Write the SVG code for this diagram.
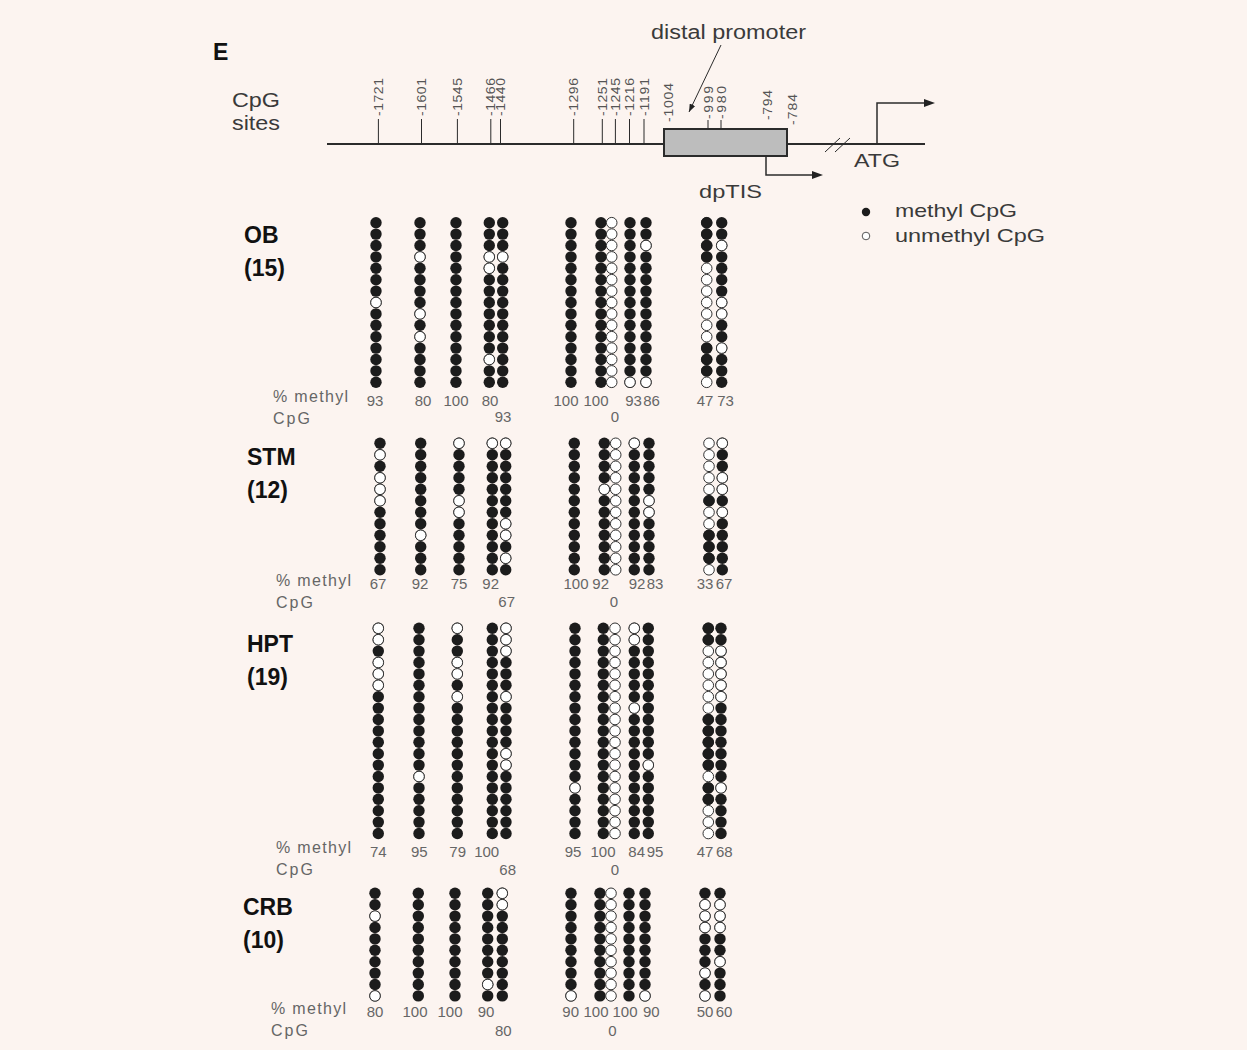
<svg xmlns="http://www.w3.org/2000/svg" xmlns:xlink="http://www.w3.org/1999/xlink" width="1247" height="1050" viewBox="0 0 1247 1050">
<style>
.t{font-family:"Liberation Sans",Arial,sans-serif;fill:#3a3a3a}
.n{font-family:"Liberation Sans",Arial,sans-serif;font-size:15px;fill:#666;text-anchor:middle}
.p{font-family:"Liberation Sans",Arial,sans-serif;font-size:16px;fill:#666}
.b{font-family:"Liberation Sans",Arial,sans-serif;font-size:23px;font-weight:bold;fill:#111}
.k{font-family:"Liberation Sans",Arial,sans-serif;font-size:14px;fill:#555}
.ln{stroke:#2b2b2b;fill:none}
</style>
<defs>
<circle id="a" r="5.7" fill="#1c1c1c"/>
<circle id="b" r="5.3" fill="#fff" stroke="#333" stroke-width="1"/>
<marker id="ah" markerUnits="userSpaceOnUse" markerWidth="11" markerHeight="8" refX="0" refY="4" orient="auto"><path d="M0,0 L11,4 L0,8 z" fill="#222"/></marker>
<marker id="ap" markerUnits="userSpaceOnUse" markerWidth="8" markerHeight="6" refX="8" refY="3" orient="auto"><path d="M0,0 L8,3 L0,6 z" fill="#222"/></marker>
<g id="A15"><use href="#a"/><use href="#a" y="11.4"/><use href="#a" y="22.8"/><use href="#a" y="34.2"/><use href="#a" y="45.6"/><use href="#a" y="57"/><use href="#a" y="68.4"/><use href="#a" y="79.8"/><use href="#a" y="91.2"/><use href="#a" y="102.6"/><use href="#a" y="114"/><use href="#a" y="125.4"/><use href="#a" y="136.8"/><use href="#a" y="148.2"/><use href="#a" y="159.6"/></g>
<g id="B15"><use href="#b"/><use href="#b" y="11.4"/><use href="#b" y="22.8"/><use href="#b" y="34.2"/><use href="#b" y="45.6"/><use href="#b" y="57"/><use href="#b" y="68.4"/><use href="#b" y="79.8"/><use href="#b" y="91.2"/><use href="#b" y="102.6"/><use href="#b" y="114"/><use href="#b" y="125.4"/><use href="#b" y="136.8"/><use href="#b" y="148.2"/><use href="#b" y="159.6"/></g>
<g id="A12"><use href="#a"/><use href="#a" y="11.5"/><use href="#a" y="23"/><use href="#a" y="34.5"/><use href="#a" y="46"/><use href="#a" y="57.5"/><use href="#a" y="69"/><use href="#a" y="80.5"/><use href="#a" y="92"/><use href="#a" y="103.5"/><use href="#a" y="115"/><use href="#a" y="126.5"/></g>
<g id="B12"><use href="#b"/><use href="#b" y="11.5"/><use href="#b" y="23"/><use href="#b" y="34.5"/><use href="#b" y="46"/><use href="#b" y="57.5"/><use href="#b" y="69"/><use href="#b" y="80.5"/><use href="#b" y="92"/><use href="#b" y="103.5"/><use href="#b" y="115"/><use href="#b" y="126.5"/></g>
<g id="A19"><use href="#A15"/><use href="#a" y="171"/><use href="#a" y="182.4"/><use href="#a" y="193.8"/><use href="#a" y="205.2"/></g>
<g id="B19"><use href="#B15"/><use href="#b" y="171"/><use href="#b" y="182.4"/><use href="#b" y="193.8"/><use href="#b" y="205.2"/></g>
<g id="A10"><use href="#a"/><use href="#a" y="11.4"/><use href="#a" y="22.8"/><use href="#a" y="34.2"/><use href="#a" y="45.6"/><use href="#a" y="57"/><use href="#a" y="68.4"/><use href="#a" y="79.8"/><use href="#a" y="91.2"/><use href="#a" y="102.6"/></g>
<g id="B10"><use href="#b"/><use href="#b" y="11.4"/><use href="#b" y="22.8"/><use href="#b" y="34.2"/><use href="#b" y="45.6"/><use href="#b" y="57"/><use href="#b" y="68.4"/><use href="#b" y="79.8"/><use href="#b" y="91.2"/><use href="#b" y="102.6"/></g>
</defs>
<rect width="1247" height="1050" fill="#fcf4f0"/>

<g id="header">
<text class="b" x="213" y="60" font-size="24">E</text>
<text class="t" x="232" y="107" font-size="20" textLength="48" lengthAdjust="spacingAndGlyphs">CpG</text>
<text class="t" x="232" y="130" font-size="20" textLength="48" lengthAdjust="spacingAndGlyphs">sites</text>
<text class="t" x="651" y="39" font-size="20" textLength="155" lengthAdjust="spacingAndGlyphs">distal promoter</text>
<text class="t" x="854" y="167" font-size="19" textLength="46" lengthAdjust="spacingAndGlyphs">ATG</text>
<text class="t" x="699" y="198" font-size="19" textLength="63" lengthAdjust="spacingAndGlyphs">dpTIS</text>
<path class="ln" stroke-width="2" d="M327,144 H664 M787,144 H925"/>
<rect x="664" y="129" width="123" height="27" fill="#bdbdbd" stroke="#2b2b2b" stroke-width="2"/>
<path class="ln" stroke-width="1" d="M825,152 L840,138 M835,152 L850,138"/>
<path class="ln" stroke-width="1" d="M378.4,119V144 M421.5,119V144 M457.4,119V144 M490.8,119V144 M500.5,119V144 M573.7,119V144 M602.3,119V144 M615.4,119V144 M629.5,119V144 M644,119V144 M708,120V129 M721,120V129"/>
<g class="k">
<text transform="translate(383,116) scale(0.85,1) rotate(-90)" textLength="38">-1721</text>
<text transform="translate(426,116) scale(0.85,1) rotate(-90)" textLength="38">-1601</text>
<text transform="translate(462,116) scale(0.85,1) rotate(-90)" textLength="38">-1545</text>
<text transform="translate(495,116) scale(0.85,1) rotate(-90)" textLength="38">-1466</text>
<text transform="translate(505,116) scale(0.85,1) rotate(-90)" textLength="38">-1440</text>
<text transform="translate(578,116) scale(0.85,1) rotate(-90)" textLength="38">-1296</text>
<text transform="translate(607,116) scale(0.85,1) rotate(-90)" textLength="38">-1251</text>
<text transform="translate(620,116) scale(0.85,1) rotate(-90)" textLength="38">-1245</text>
<text transform="translate(634,116) scale(0.85,1) rotate(-90)" textLength="38">-1216</text>
<text transform="translate(648.5,116) scale(0.85,1) rotate(-90)" textLength="38">-1191</text>
<text transform="translate(672.5,122) scale(0.85,1) rotate(-90)" textLength="39">-1004</text>
<text transform="translate(712.5,119) scale(0.85,1) rotate(-90)" textLength="33">-999</text>
<text transform="translate(725.5,119) scale(0.85,1) rotate(-90)" textLength="33">-980</text>
<text transform="translate(771.5,120) scale(0.85,1) rotate(-90)" textLength="30">-794</text>
<text transform="translate(796.5,125) scale(0.85,1) rotate(-90)" textLength="31">-784</text>
</g>
</g>

<g id="connectors">
<path class="ln" stroke-width="1.5" d="M877,144 V103 H924" marker-end="url(#ah)"/>
<path class="ln" stroke-width="1.5" d="M766,156 V175 H812" marker-end="url(#ah)"/>
<path class="ln" stroke-width="1" d="M721,45 L689,112" marker-end="url(#ap)"/>
</g>

<g id="legend">
<circle cx="866" cy="212" r="4.2" fill="#1c1c1c"/>
<circle cx="866" cy="236" r="3.8" fill="#fff" stroke="#444" stroke-width="0.9"/>
<text class="t" x="895" y="217" font-size="19" textLength="122" lengthAdjust="spacingAndGlyphs">methyl CpG</text>
<text class="t" x="895" y="242" font-size="19" textLength="150" lengthAdjust="spacingAndGlyphs">unmethyl CpG</text>
</g>

<g id="OB">
<text class="b" x="244" y="243">OB</text>
<text class="b" x="244" y="276">(15)</text>
<text class="p" x="273" y="402" textLength="75">% methyl</text>
<text class="p" x="273" y="424" textLength="37">CpG</text>
<g transform="translate(376,222.7)"><use href="#A15"/><use href="#b" y="79.8"/></g>
<g transform="translate(420,222.7)"><use href="#A15"/><use href="#b" y="34.2"/><use href="#b" y="91.2"/><use href="#b" y="114"/></g>
<g transform="translate(456,222.7)"><use href="#A15"/></g>
<g transform="translate(489.3,222.7)"><use href="#A15"/><use href="#b" y="34.2"/><use href="#b" y="45.6"/><use href="#b" y="136.8"/></g>
<g transform="translate(502.7,222.7)"><use href="#A15"/><use href="#b" y="34.2"/></g>
<g transform="translate(571,222.7)"><use href="#A15"/></g>
<g transform="translate(601,222.7)"><use href="#A15"/></g>
<g transform="translate(611.7,222.7)"><use href="#B15"/></g>
<g transform="translate(630,222.7)"><use href="#A15"/><use href="#b" y="159.6"/></g>
<g transform="translate(646,222.7)"><use href="#A15"/><use href="#b" y="22.8"/><use href="#b" y="159.6"/></g>
<g transform="translate(706.7,222.7)"><use href="#B15"/><use href="#a"/><use href="#a" y="11.4"/><use href="#a" y="22.8"/><use href="#a" y="34.2"/><use href="#a" y="125.4"/><use href="#a" y="136.8"/><use href="#a" y="148.2"/></g>
<g transform="translate(721.7,222.7)"><use href="#A15"/><use href="#b" y="22.8"/><use href="#b" y="79.8"/><use href="#b" y="91.2"/><use href="#b" y="125.4"/></g>
<text class="n" x="375" y="405.5">93</text>
<text class="n" x="423" y="405.5">80</text>
<text class="n" x="456" y="405.5">100</text>
<text class="n" x="490" y="405.5">80</text>
<text class="n" x="503" y="422">93</text>
<text class="n" x="566" y="405.5">100</text>
<text class="n" x="596" y="405.5">100</text>
<text class="n" x="615" y="422">0</text>
<text class="n" x="633.5" y="405.5">93</text>
<text class="n" x="651.5" y="405.5">86</text>
<text class="n" x="705" y="405.5">47</text>
<text class="n" x="725.5" y="405.5">73</text>
</g>

<g id="STM">
<text class="b" x="247" y="465">STM</text>
<text class="b" x="247" y="498">(12)</text>
<text class="p" x="276" y="586" textLength="75">% methyl</text>
<text class="p" x="276" y="608" textLength="37">CpG</text>
<g transform="translate(380,443.3)"><use href="#A12"/><use href="#b" y="11.5"/><use href="#b" y="34.5"/><use href="#b" y="46"/><use href="#b" y="57.5"/></g>
<g transform="translate(420.7,443.3)"><use href="#A12"/><use href="#b" y="92"/></g>
<g transform="translate(459,443.3)"><use href="#A12"/><use href="#b"/><use href="#b" y="57.5"/><use href="#b" y="69"/></g>
<g transform="translate(492.3,443.3)"><use href="#A12"/><use href="#b"/></g>
<g transform="translate(505.7,443.3)"><use href="#A12"/><use href="#b"/><use href="#b" y="80.5"/><use href="#b" y="92"/><use href="#b" y="115"/></g>
<g transform="translate(574.3,443.3)"><use href="#A12"/></g>
<g transform="translate(604.3,443.3)"><use href="#A12"/><use href="#b" y="46"/></g>
<g transform="translate(615.7,443.3)"><use href="#B12"/></g>
<g transform="translate(634.3,443.3)"><use href="#A12"/><use href="#b"/></g>
<g transform="translate(649,443.3)"><use href="#A12"/><use href="#b" y="57.5"/><use href="#b" y="69"/></g>
<g transform="translate(709,443.3)"><use href="#B12"/><use href="#a" y="57.5"/><use href="#a" y="92"/><use href="#a" y="103.5"/><use href="#a" y="115"/></g>
<g transform="translate(722.3,443.3)"><use href="#A12"/><use href="#b"/><use href="#b" y="34.5"/><use href="#b" y="46"/><use href="#b" y="69"/></g>
<text class="n" x="378" y="589">67</text>
<text class="n" x="420" y="589">92</text>
<text class="n" x="459" y="589">75</text>
<text class="n" x="490.7" y="589">92</text>
<text class="n" x="506.7" y="607">67</text>
<text class="n" x="576" y="589">100</text>
<text class="n" x="600.7" y="589">92</text>
<text class="n" x="614" y="607">0</text>
<text class="n" x="637" y="589">92</text>
<text class="n" x="655" y="589">83</text>
<text class="n" x="705" y="589">33</text>
<text class="n" x="724" y="589">67</text>
</g>

<g id="HPT">
<text class="b" x="247" y="652">HPT</text>
<text class="b" x="247" y="685">(19)</text>
<text class="p" x="276" y="853" textLength="75">% methyl</text>
<text class="p" x="276" y="875" textLength="37">CpG</text>
<g transform="translate(378.3,628.3)"><use href="#A19"/><use href="#b"/><use href="#b" y="11.4"/><use href="#b" y="34.2"/><use href="#b" y="45.6"/><use href="#b" y="57"/></g>
<g transform="translate(419,628.3)"><use href="#A19"/><use href="#b" y="148.2"/></g>
<g transform="translate(457.3,628.3)"><use href="#A19"/><use href="#b"/><use href="#b" y="34.2"/><use href="#b" y="45.6"/><use href="#b" y="68.4"/></g>
<g transform="translate(492.3,628.3)"><use href="#A19"/></g>
<g transform="translate(506,628.3)"><use href="#A19"/><use href="#b"/><use href="#b" y="11.4"/><use href="#b" y="22.8"/><use href="#b" y="68.4"/><use href="#b" y="125.4"/><use href="#b" y="136.8"/></g>
<g transform="translate(575,628.3)"><use href="#A19"/><use href="#b" y="159.6"/></g>
<g transform="translate(603.3,628.3)"><use href="#A19"/></g>
<g transform="translate(615,628.3)"><use href="#B19"/></g>
<g transform="translate(634.3,628.3)"><use href="#A19"/><use href="#b"/><use href="#b" y="11.4"/><use href="#b" y="79.8"/></g>
<g transform="translate(648.3,628.3)"><use href="#A19"/><use href="#b" y="136.8"/></g>
<g transform="translate(708.3,628.3)"><use href="#B19"/><use href="#a"/><use href="#a" y="11.4"/><use href="#a" y="91.2"/><use href="#a" y="102.6"/><use href="#a" y="114"/><use href="#a" y="125.4"/><use href="#a" y="136.8"/><use href="#a" y="159.6"/><use href="#a" y="171"/></g>
<g transform="translate(721,628.3)"><use href="#A19"/><use href="#b" y="22.8"/><use href="#b" y="34.2"/><use href="#b" y="45.6"/><use href="#b" y="57"/><use href="#b" y="68.4"/><use href="#b" y="159.6"/></g>
<text class="n" x="378.3" y="856.5">74</text>
<text class="n" x="419.3" y="856.5">95</text>
<text class="n" x="457.7" y="856.5">79</text>
<text class="n" x="486.7" y="856.5">100</text>
<text class="n" x="507.7" y="874.5">68</text>
<text class="n" x="573" y="856.5">95</text>
<text class="n" x="603" y="856.5">100</text>
<text class="n" x="615" y="874.5">0</text>
<text class="n" x="636.7" y="856.5">84</text>
<text class="n" x="655" y="856.5">95</text>
<text class="n" x="705" y="856.5">47</text>
<text class="n" x="724.3" y="856.5">68</text>
</g>

<g id="CRB">
<text class="b" x="243" y="915">CRB</text>
<text class="b" x="243" y="948">(10)</text>
<text class="p" x="271" y="1014" textLength="75">% methyl</text>
<text class="p" x="271" y="1036" textLength="37">CpG</text>
<g transform="translate(375,893.3)"><use href="#A10"/><use href="#b" y="22.8"/><use href="#b" y="102.6"/></g>
<g transform="translate(418.3,893.3)"><use href="#A10"/></g>
<g transform="translate(455,893.3)"><use href="#A10"/></g>
<g transform="translate(487.7,893.3)"><use href="#A10"/><use href="#b" y="91.2"/></g>
<g transform="translate(502.3,893.3)"><use href="#A10"/><use href="#b"/><use href="#b" y="11.4"/></g>
<g transform="translate(571,893.3)"><use href="#A10"/><use href="#b" y="102.6"/></g>
<g transform="translate(600,893.3)"><use href="#A10"/></g>
<g transform="translate(611,893.3)"><use href="#B10"/></g>
<g transform="translate(629,893.3)"><use href="#A10"/></g>
<g transform="translate(645,893.3)"><use href="#A10"/><use href="#b" y="102.6"/></g>
<g transform="translate(705,893.3)"><use href="#A10"/><use href="#b" y="11.4"/><use href="#b" y="22.8"/><use href="#b" y="34.2"/><use href="#b" y="79.8"/><use href="#b" y="102.6"/></g>
<g transform="translate(720,893.3)"><use href="#A10"/><use href="#b" y="11.4"/><use href="#b" y="22.8"/><use href="#b" y="34.2"/><use href="#b" y="68.4"/></g>
<text class="n" x="375" y="1017">80</text>
<text class="n" x="415" y="1017">100</text>
<text class="n" x="450" y="1017">100</text>
<text class="n" x="486" y="1017">90</text>
<text class="n" x="503.3" y="1035.5">80</text>
<text class="n" x="570.7" y="1017">90</text>
<text class="n" x="596" y="1017">100</text>
<text class="n" x="612.3" y="1035.5">0</text>
<text class="n" x="625" y="1017">100</text>
<text class="n" x="651.3" y="1017">90</text>
<text class="n" x="705" y="1017">50</text>
<text class="n" x="724" y="1017">60</text>
</g>
</svg>
